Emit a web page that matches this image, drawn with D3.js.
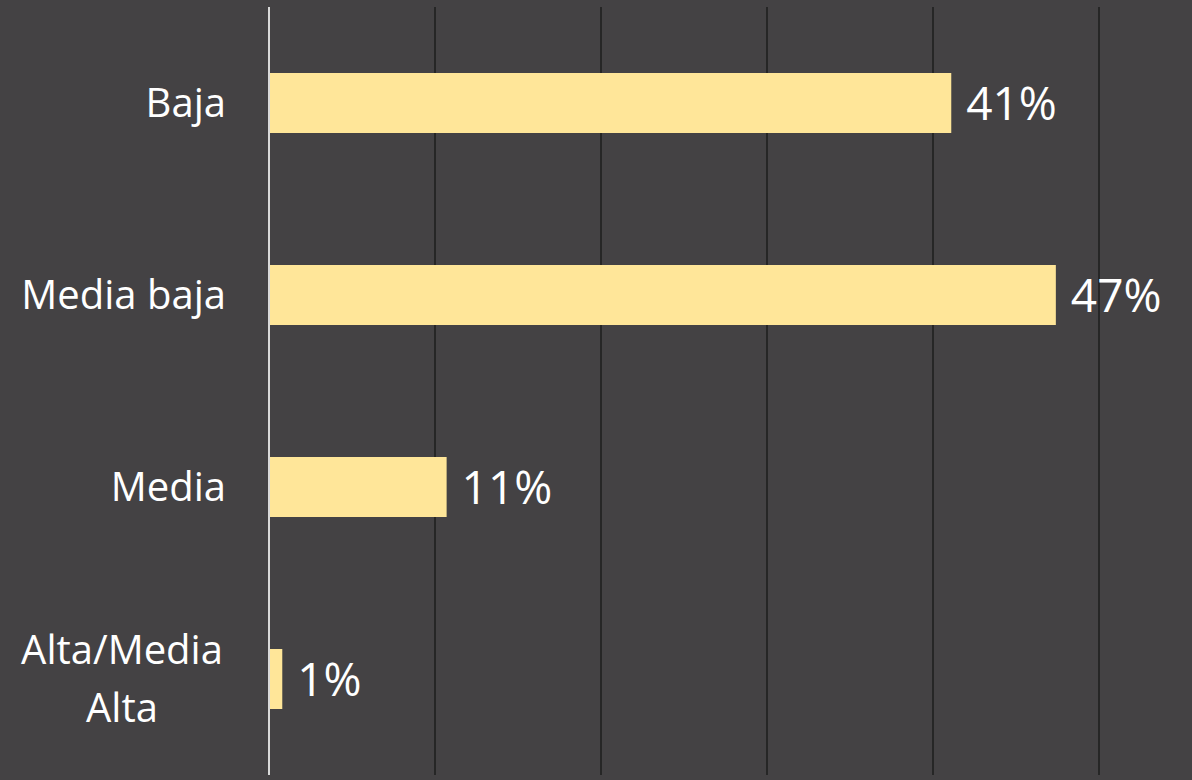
<!DOCTYPE html>
<html>
<head>
<meta charset="utf-8">
<script src="https://cdn.jsdelivr.net/npm/d3@7"></script>
<style>
  html, body { margin: 0; padding: 0; background: #444244; }
  svg { display: block; font-family: "Open Sans", "Noto Sans", sans-serif; }
</style>
</head>
<body>
<svg id="chart" width="1192" height="780"></svg>
<script>
// Datos
const categories = ["Baja", "Media baja", "Media", "Alta/Media Alta"];
const categoryLines = [["Baja"], ["Media baja"], ["Media"], ["Alta/Media", "Alta"]];
const values = [0.411, 0.474, 0.107, 0.008];
const valueLabels = ["41%", "47%", "11%", "1%"];
const gridTicks = [0, 0.1, 0.2, 0.3, 0.4, 0.5];

const svg = d3.select("#chart");
const width = +svg.attr("width");
const height = +svg.attr("height");
const margin = { top: 7, right: 93, bottom: 5, left: 269 };
const innerWidth = width - margin.left - margin.right;
const innerHeight = height - margin.top - margin.bottom;

svg.append("rect").attr("width", width).attr("height", height).attr("fill", "#444244");

const g = svg.append("g").attr("transform", `translate(${margin.left},${margin.top})`);

const xScale = d3.scaleLinear().domain([0, 0.5]).range([0, innerWidth]);
const yScale = d3.scaleBand().domain(categories).range([0, innerHeight]).paddingInner(0.6875).paddingOuter(0.34375);

// Líneas de cuadrícula
g.append("g")
  .selectAll("line")
  .data(gridTicks.slice(1))
  .join("line")
  .attr("x1", (d) => xScale(d))
  .attr("x2", (d) => xScale(d))
  .attr("y1", 0)
  .attr("y2", innerHeight)
  .attr("stroke", "#262626")
  .attr("stroke-width", 2);

// Barras
g.append("g")
  .selectAll("rect")
  .data(values)
  .join("rect")
  .attr("x", xScale(0))
  .attr("y", (d, i) => yScale(categories[i]))
  .attr("width", (d) => xScale(d) - xScale(0))
  .attr("height", yScale.bandwidth())
  .attr("fill", "#FFE699");

// Eje vertical
g.append("line")
  .attr("x1", 0).attr("x2", 0)
  .attr("y1", 0).attr("y2", innerHeight)
  .attr("stroke", "#d9d9d9")
  .attr("stroke-width", 2);

// Etiquetas de valores
g.append("g")
  .selectAll("text")
  .data(values)
  .join("text")
  .attr("x", (d) => xScale(d) + 15)
  .attr("y", (d, i) => yScale(categories[i]) + yScale.bandwidth() / 2)
  .attr("dy", "0.38em")
  .attr("fill", "#ffffff")
  .attr("font-size", 46)
  .text((d, i) => valueLabels[i]);

// Etiquetas de categorías
const catG = g.append("g");
categories.forEach((c, i) => {
  const lines = categoryLines[i];
  const cy = yScale(c) + yScale.bandwidth() / 2;
  const lh = 58;
  const multi = lines.length > 1;
  const t = catG.append("text")
    .attr("fill", "#ffffff")
    .attr("font-size", 40)
    .attr("text-anchor", multi ? "middle" : "end");
  lines.forEach((l, j) => {
    t.append("tspan")
      .attr("x", multi ? -147 : -43)
      .attr("y", cy + (j - (lines.length - 1) / 2) * lh)
      .attr("dy", "0.36em")
      .text(l);
  });
});
</script>
</body>
</html>
